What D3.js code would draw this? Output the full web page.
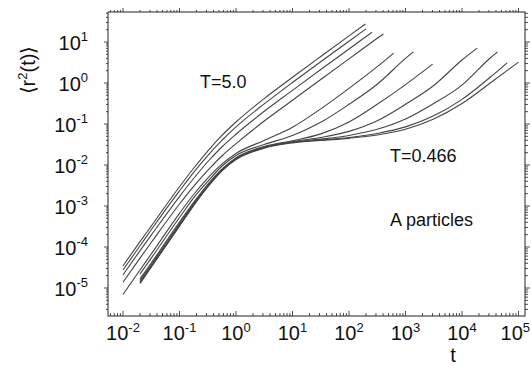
<!DOCTYPE html>
<html>
<head>
<meta charset="utf-8">
<script src="https://cdn.jsdelivr.net/npm/d3@7"></script>
<style>
  body { margin: 0; background: #fff; }
  text { font-family: "Liberation Sans", Arial, sans-serif; fill: #111; }
</style>
</head>
<body>
<script>
// time grid (shared by all curves)
var times = [0.01, 0.02, 0.0316, 0.1, 0.178, 0.316, 0.562, 1, 3.16, 10, 31.6, 100, 316, 1000, 3160, 10000, 31600];
var temps = ["5.0", "4.0", "3.0", "2.0", "1.0", "0.8", "0.6", "0.55", "0.5", "0.475", "0.466"];

var msd_T5_0   = [3.47e-5, 1.35e-4, 3.24e-4, 2.95e-3, 8.32e-3, 2.19e-2, 5.25e-2, 0.112, 0.417, 1.38, 4.43, 14.1, null, null, null, null, null];
var msd_T4_0   = [2.75e-5, 1.07e-4, 2.63e-4, 2.34e-3, 6.61e-3, 1.70e-2, 3.98e-2, 8.51e-2, 0.309, 1.03, 3.29, 10.45, null, null, null, null, null];
var msd_T3_0   = [2.09e-5, 8.13e-5, 1.95e-4, 1.70e-3, 4.68e-3, 1.20e-2, 2.75e-2, 5.62e-2, 0.204, 0.661, 2.13, 6.75, null, null, null, null, null];
var msd_T2_0   = [1.38e-5, 5.37e-5, 1.29e-4, 1.12e-3, 3.02e-3, 7.41e-3, 1.66e-2, 3.31e-2, 0.118, 0.380, 1.22, 3.88, 12.3, null, null, null, null];
var msd_T1_0   = [6.92e-6, 2.75e-5, 6.76e-5, 6.61e-4, 1.91e-3, 4.79e-3, 1.05e-2, 1.91e-2, 3.98e-2, 8.32e-2, 0.234, 0.741, 2.51, null, null, null, null];
var msd_T0_8   = [null, 2.19e-5, 5.37e-5, 5.25e-4, 1.58e-3, 3.98e-3, 9.33e-3, 1.70e-2, 3.16e-2, 5.25e-2, 0.110, 0.302, 0.933, 3.98, null, null, null];
var msd_T0_6   = [null, 1.66e-5, 4.07e-5, 4.07e-4, 1.23e-3, 3.39e-3, 7.94e-3, 1.51e-2, 2.82e-2, 3.89e-2, 5.75e-2, 0.112, 0.302, 0.912, null, null, null];
var msd_T0_55  = [null, 1.51e-5, 3.72e-5, 3.72e-4, 1.15e-3, 3.16e-3, 7.59e-3, 1.45e-2, 2.75e-2, 3.72e-2, 4.68e-2, 6.61e-2, 0.120, 0.302, 0.871, 3.63, null];
var msd_T0_5   = [null, 1.38e-5, 3.39e-5, 3.39e-4, 1.07e-3, 3.02e-3, 7.41e-3, 1.41e-2, 2.69e-2, 3.63e-2, 4.27e-2, 5.25e-2, 7.41e-2, 0.132, 0.316, 0.891, 4.07];
var msd_T0_475 = [null, 1.32e-5, 3.31e-5, 3.31e-4, 1.05e-3, 2.95e-3, 7.24e-3, 1.38e-2, 2.63e-2, 3.55e-2, 4.07e-2, 4.68e-2, 5.89e-2, 8.51e-2, 0.158, 0.398, 1.38];
var msd_T0_466 = [null, 1.29e-5, 3.24e-5, 3.24e-4, 1.02e-3, 2.95e-3, 7.24e-3, 1.35e-2, 2.57e-2, 3.47e-2, 3.98e-2, 4.47e-2, 5.37e-2, 7.41e-2, 0.132, 0.316, 1.0];

// last point of each run
var tEnd  = [195, 200, 257, 407, 617, 1380, 3020, 18600, 42700, 63100, 100000];
var r2End = [27.5, 20.9, 17.4, 15.8, 5.37, 5.75, 2.88, 7.08, 5.75, 3.09, 3.24];

var xDecades = [-2, -1, 0, 1, 2, 3, 4, 5];
var yDecades = [-5, -4, -3, -2, -1, 0, 1];

var allSeries = [msd_T5_0, msd_T4_0, msd_T3_0, msd_T2_0, msd_T1_0, msd_T0_8,
                 msd_T0_6, msd_T0_55, msd_T0_5, msd_T0_475, msd_T0_466];

var W = 531, H = 366;
var frame = {left: 108, right: 525, top: 12, bottom: 316};

var svg = d3.select("body").append("svg")
  .attr("width", W)
  .attr("height", H);

var x = d3.scaleLog().domain([1e-2, 1e5]).range([123, 518.5]);
var y = d3.scaleLog().domain([1e-5, 10]).range([288, 42]);

// minor + major ticks inside the frame
function logTicks(scale, lo, hi) {
  var a = scale.invert(lo), b = scale.invert(hi);
  var mn = Math.min(a, b), mx = Math.max(a, b);
  var out = [];
  for (var d = Math.floor(Math.log10(mn)); d <= Math.ceil(Math.log10(mx)); d++) {
    for (var k = 1; k <= 9; k++) {
      var v = k * Math.pow(10, d);
      if (v >= mn && v <= mx) out.push({v: v, major: k == 1});
    }
  }
  return out;
}

var xt = logTicks(x, frame.left, frame.right);
var yt = logTicks(y, frame.bottom, frame.top);

var tk = svg.append("g").attr("stroke", "#222").attr("stroke-width", 0.8);

// bottom (inward), top (outward)
xt.forEach(function(d) {
  var L = d.major ? 5 : 3;
  tk.append("line").attr("x1", x(d.v)).attr("x2", x(d.v))
    .attr("y1", frame.bottom).attr("y2", frame.bottom - L);
  tk.append("line").attr("x1", x(d.v)).attr("x2", x(d.v))
    .attr("y1", frame.top).attr("y2", frame.top - L + 1);
});
// left and right (outward)
yt.forEach(function(d) {
  var L = d.major ? 5 : 3;
  tk.append("line").attr("x1", frame.left).attr("x2", frame.left - L + 1)
    .attr("y1", y(d.v)).attr("y2", y(d.v));
  tk.append("line").attr("x1", frame.right).attr("x2", frame.right + L)
    .attr("y1", y(d.v)).attr("y2", y(d.v));
});

svg.append("rect")
  .attr("x", frame.left).attr("y", frame.top)
  .attr("width", frame.right - frame.left)
  .attr("height", frame.bottom - frame.top)
  .attr("fill", "none").attr("stroke", "#222").attr("stroke-width", 1);

// tick labels 10^n (last one kept inside the page)
xDecades.forEach(function(e) {
  var t = svg.append("text")
    .attr("y", 340)
    .attr("text-anchor", "middle")
    .style("font-size", "20px");
  t.append("tspan").text("10");
  t.append("tspan").attr("dy", -8).style("font-size", "13px").text(e);
  var w = t.node().getComputedTextLength();
  var cx = Math.min(x(Math.pow(10, e)), W - 1 - w / 2);
  t.attr("x", cx);
});
yDecades.forEach(function(e) {
  var t = svg.append("text")
    .attr("x", 88)
    .attr("y", y(Math.pow(10, e)) + 8)
    .attr("text-anchor", "end")
    .style("font-size", "20px");
  t.append("tspan").text("10");
  t.append("tspan").attr("dy", -9).style("font-size", "13px").text(e);
});

// curves
var line = d3.line()
  .x(function(d) { return x(d[0]); })
  .y(function(d) { return y(d[1]); })
  .curve(d3.curveMonotoneX);

allSeries.forEach(function(s, i) {
  var pts = [];
  times.forEach(function(t, j) {
    if (s[j] != null) pts.push([t, s[j]]);
  });
  pts.push([tEnd[i], r2End[i]]);
  svg.append("path")
    .datum(pts)
    .attr("class", "T" + temps[i])
    .attr("fill", "none")
    .attr("stroke", "#444")
    .attr("stroke-width", 1.1)
    .attr("d", line);
});

// labels
svg.append("text").attr("x", 200).attr("y", 88).style("font-size", "18px").text("T=" + temps[0]);
svg.append("text").attr("x", 390).attr("y", 162).style("font-size", "18px").text("T=" + temps[temps.length - 1]);
svg.append("text").attr("x", 390).attr("y", 226).style("font-size", "18px").text("A particles");
svg.append("text").attr("x", 453).attr("y", 362).attr("text-anchor", "middle").style("font-size", "20px").text("t");

var yl = svg.append("text")
  .attr("transform", "translate(35,70) rotate(-90)")
  .attr("text-anchor", "middle")
  .style("font-size", "20px");
yl.append("tspan").text("\u27E8r");
yl.append("tspan").attr("dy", -8).style("font-size", "13px").text("2");
yl.append("tspan").attr("dy", 8).text("(t)\u27E9");
</script>
</body>
</html>
